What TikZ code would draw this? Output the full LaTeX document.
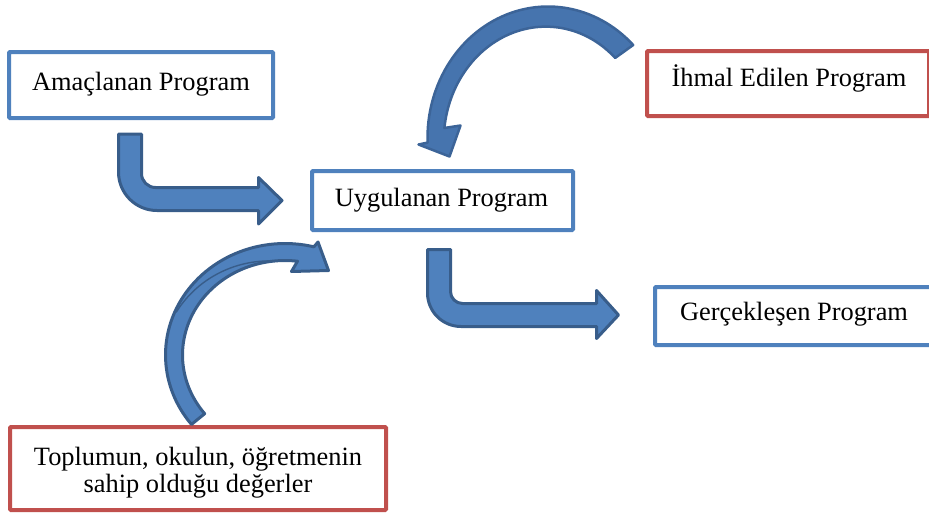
\documentclass[tikz,border=0pt]{standalone}
\usepackage{fontspec}
\setmainfont{Liberation Serif}
\begin{document}
\begin{tikzpicture}[x=1pt,y=-1pt,
  every node/.style={inner sep=0pt, outer sep=0pt},
  progbox/.style={draw=#1, line width=4pt, rounded corners=1pt, fill=white},
  label/.style={anchor=base, font=\fontsize{26.4}{27.5}\selectfont, align=center},
  bentarrow/.style={fill=arrowfill, draw=arrowline, line width=3pt, line join=round},
  curvearrow/.style={fill=arrowfill, draw=arrowline, line width=3pt, line join=round},
  softarrow/.style={fill=softfill, draw=softline, line width=2.5pt, line join=round}]

\definecolor{boxblue}{RGB}{79,129,189}
\definecolor{boxred}{RGB}{192,80,77}
\definecolor{arrowfill}{RGB}{79,129,189}
\definecolor{arrowline}{RGB}{56,93,138}
\definecolor{softfill}{RGB}{70,116,174}
\definecolor{softline}{RGB}{60,100,152}

\useasboundingbox (0,0) rectangle (929,517);
\clip (0,0) rectangle (929,517);

% program boxes
\node[progbox=boxblue, minimum width=264pt, minimum height=66pt] (amac) at (141,85) {};
\node[progbox=boxblue, minimum width=261pt, minimum height=59pt] (uyg) at (442.5,200.5) {};
\node[progbox=boxred, minimum width=282pt, minimum height=65pt] (ihmal) at (788,83.5) {};
\node[progbox=boxblue, minimum width=278pt, minimum height=58pt] (gercek) at (794,316) {};
\node[progbox=boxred, minimum width=376pt, minimum height=83pt] (deger) at (198,468.5) {};

% box texts
\node[label] (amacT) at (141,90) {Amaçlanan Program};
\node[label] (uygT) at (441.5,206.5) {Uygulanan Program};
\node[label] (ihmalT) at (789,86.5) {İhmal Edilen Program};
\node[label] (gercekT) at (794,320) {Gerçekleşen Program};
\node[label] (degerT) at (198,465) {Toplumun, okulun, öğretmenin};
\node[label] (degerT2) at (198,492) {sahip olduğu değerler};

% bent arrow: Amaçlanan -> Uygulanan
\draw[bentarrow] (118.5,134) -- (118.5,172)
  .. controls (118.5,193.3) and (135.7,210.5) .. (157,210.5)
  -- (258.5,210.5) -- (258.5,224) -- (282,200.5) -- (258.5,177.5) -- (258.5,187.5)
  -- (155.5,187.5) .. controls (147.8,187.5) and (141.5,181.2) .. (141.5,173.5)
  -- (141.5,134) -- cycle;

% bent arrow: Uygulanan -> Gerçekleşen
\draw[bentarrow] (427.5,249.5) -- (427.5,293)
  .. controls (427.5,311.5) and (442.5,326.5) .. (461,326.5)
  -- (596.5,326.5) -- (596.5,338.5) -- (618.5,315) -- (596.5,290.5) -- (596.5,303.5)
  -- (462.5,303.5) .. controls (455.9,303.5) and (450.5,298.1) .. (450.5,291.5)
  -- (450.5,249.5) -- cycle;

% curved arrow: values -> Uygulanan
\draw[curvearrow]
  plot[domain=141.5:284, samples=60, variable=\t] ({285+119.5*cos(\t)},{355+111.5*sin(\t)})
  -- (318,242) -- (328.5,270.5) -- (291.5,271.5) --
  plot[domain=277:141.6, samples=60, variable=\t] ({285+102.5*cos(\t)},{355+94.5*sin(\t)})
  -- cycle;
% fold line crossing the band from the outer to the inner edge
\draw[arrowline, line width=1.4pt, line cap=round]
  plot[domain=203:262, samples=30, variable=\t]
    ({285+(118-15*(\t-203)/59)*cos(\t)},{355+(110-15*(\t-203)/59)*sin(\t)});

% curved arrow: İhmal -> Uygulanan (band narrows towards the head)
\draw[softarrow]
  plot[domain=315:178, samples=60, variable=\t] ({548+120.5*cos(\t)},{138+131.5*sin(\t)})
  -- (418.5,144.5) -- (449.5,156.5) -- (460.5,125.5) --
  plot[domain=185:313, samples=60, variable=\t]
    ({548+(120.5-16.5-5.5*(\t-185)/128)*cos(\t)},{138+(131.5-16.5-5.5*(\t-185)/128)*sin(\t)})
  -- cycle;

\end{tikzpicture}
\end{document}
